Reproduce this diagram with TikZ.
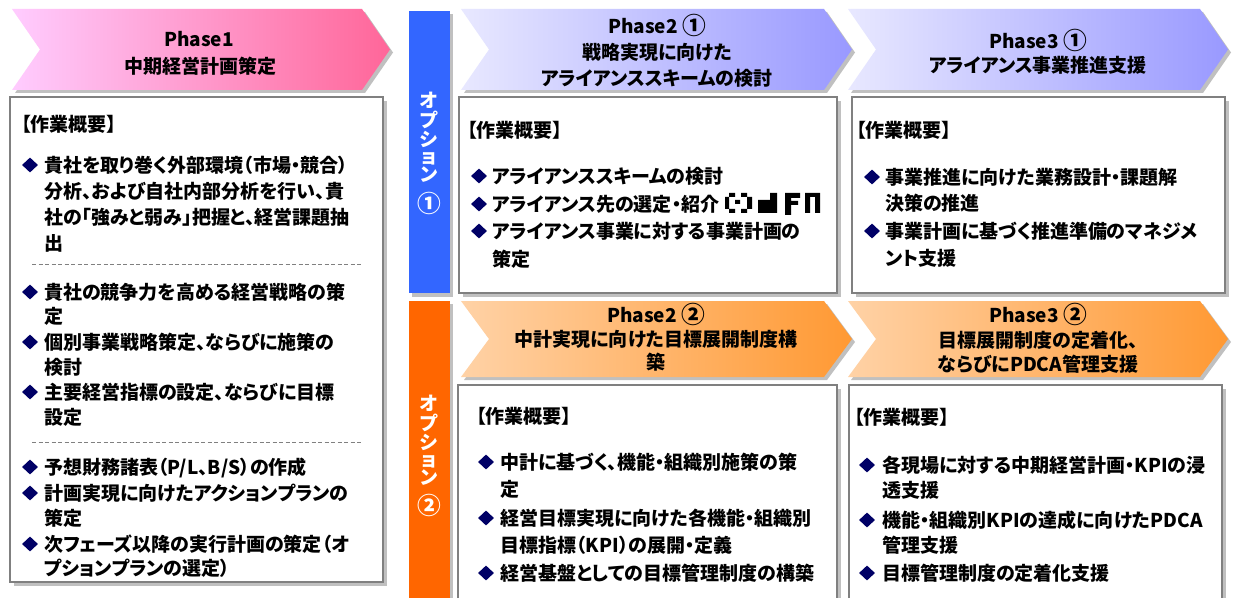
\documentclass[tikz,border=0pt]{standalone}
\usepackage{fontspec}
\usepackage{graphicx}
\setmainfont[RawFeature=+palt]{Noto Sans CJK JP}
\usetikzlibrary{shapes.geometric}
\definecolor{navy}{HTML}{000066}
\definecolor{shgray}{HTML}{C0C0C0}
\definecolor{bdgray}{HTML}{808080}
\definecolor{pinkL}{HTML}{FFCCFF}
\definecolor{pinkR}{HTML}{FF6699}
\definecolor{blueL}{HTML}{E8E8FF}
\definecolor{blueR}{HTML}{9999FF}
\definecolor{orL}{HTML}{FFD2A6}
\definecolor{orR}{HTML}{FF9933}
\definecolor{barblue}{HTML}{3366FF}
\definecolor{barorange}{HTML}{FF6600}
\newcommand\chevpath[5]{(#1,#4) -- (#3,#4) -- ({#3+28},{(#4+#5)/2}) -- (#3,#5) -- (#1,#5) -- ({#1+28},{(#4+#5)/2}) -- cycle}
\newcommand\circnum[1]{\raisebox{-0.08em}{\scalebox{1.25}{#1}}}
\begin{document}
\begin{tikzpicture}[x=1pt,y=-1pt,
  txt/.style={anchor=west,inner sep=0pt,font=\fontsize{19}{25}\selectfont\bfseries,text height=16.7pt,text depth=2.3pt},
  hd/.style={txt,anchor=center},
  vt/.style={hd,text=white},
  bul/.style={diamond,fill=navy,inner sep=0pt,minimum width=16pt,minimum height=15pt},
  boxst/.style={draw=bdgray,line width=1.6pt,fill=white},
  shad/.style={fill=shgray},
  sep/.style={draw=bdgray,line width=0.9pt,dash pattern=on 4pt off 2.5pt}]
\useasboundingbox (0,0) rectangle (1238,609);
\fill[white] (0,0) rectangle (1238,609);

% ---------- chevrons ----------
\foreach \a/\b/\c/\d/\e/\lc/\rc in {12/12/362/9/90/pinkL/pinkR, 461/461/824/9/90/blueL/blueR, 848/848/1200/9/90/blueL/blueR, 461/461/824/301/377/orL/orR, 848/848/1200/301/377/orL/orR}{
  \fill[shgray] [shift={(3,3)}] \chevpath{\a}{\b}{\c}{\d}{\e};
  \shade[left color=\lc,right color=\rc] \chevpath{\a}{\b}{\c}{\d}{\e};
}

% ---------- option bars ----------
\fill[shad] (412,14) rectangle (453,297);
\fill[barblue] (409,11) rectangle (450,293);
\fill[shad] (412,304) rectangle (453,598);
\fill[barorange] (409,301) rectangle (450,598);

% ---------- boxes ----------
\fill[shad] (14,101) rectangle (387,586);
\draw[boxst] (10,97) rectangle (383,582);
\fill[shad] (463,101) rectangle (841,297);
\draw[boxst] (459,97) rectangle (837,293);
\fill[shad] (856,101) rectangle (1229,297);
\draw[boxst] (852,97) rectangle (1225,293);
\fill[shad] (462,389) rectangle (841,598);
\fill[white] (458,385) rectangle (837,598);
\draw[draw=bdgray,line width=1.6pt] (458,598) -- (458,385) -- (837,385) -- (837,598);
\fill[shad] (853,389) rectangle (1226,598);
\fill[white] (849,385) rectangle (1222,598);
\draw[draw=bdgray,line width=1.6pt] (849,598) -- (849,385) -- (1222,385) -- (1222,598);

% separators in box 1
\coordinate (s1a) at (32,264); \coordinate (s1b) at (363,264);
\coordinate (s2a) at (32,442); \coordinate (s2b) at (363,442);
\draw[sep] (s1a) -- (s1b);
\draw[sep] (s2a) -- (s2b);

% ---------- chevron titles ----------
\node[hd] (p1a) at (199,39) {Phase1};
\node[hd] (p1b) at (200,66) {中期経営計画策定};
\node[hd] (p21a) at (657,26) {Phase2 \circnum{①}};
\node[hd] (p21b) at (657,52) {戦略実現に向けた};
\node[hd] (p21c) at (657,78) {アライアンススキームの検討};
\node[hd] (p31a) at (1038,41) {Phase3 \circnum{①}};
\node[hd] (p31b) at (1038,65) {アライアンス事業推進支援};
\node[hd] (p22a) at (656,315) {Phase2 \circnum{②}};
\node[hd] (p22b) at (656,339) {中計実現に向けた目標展開制度構};
\node[hd] (p22c) at (656,362) {築};
\node[hd] (p32a) at (1038,315) {Phase3 \circnum{②}};
\node[hd] (p32b) at (1038,340) {目標展開制度の定着化、};
\node[hd] (p32c) at (1038,364) {ならびにPDCA管理支援};

% ---------- option labels ----------
\foreach \ch/\dy [count=\i] in {オ/0,プ/20,シ/39,ョ/56,ン/74}{
  \node[vt] (o1c\i) at (429,{100+\dy}) {\ch};
  \node[vt] (o2c\i) at (429,{403+\dy}) {\ch};
}
\node[vt] (o1n) at (429,204) {\circnum{①}};
\node[vt] (o2n) at (429,506) {\circnum{②}};

% ---------- box 1 ----------
\node[txt] (h1) at (21,124) {【作業概要】};
\node[bul] (b11) at (30,165) {};
\node[txt] (t11a) at (44,165) {貴社を取り巻く外部環境（市場・競合）};
\node[txt] (t11b) at (44,191) {分析、および自社内部分析を行い、貴};
\node[txt] (t11c) at (44,217) {社の「強みと弱み」把握と、経営課題抽};
\node[txt] (t11d) at (44,243) {出};
\node[bul] (b12) at (30,292) {};
\node[txt] (t12a) at (44,292) {貴社の競争力を高める経営戦略の策};
\node[txt] (t12b) at (44,316) {定};
\node[bul] (b13) at (30,342) {};
\node[txt] (t13a) at (44,342) {個別事業戦略策定、ならびに施策の};
\node[txt] (t13b) at (44,367) {検討};
\node[bul] (b14) at (30,392) {};
\node[txt] (t14a) at (44,392) {主要経営指標の設定、ならびに目標};
\node[txt] (t14b) at (44,417) {設定};
\node[bul] (b15) at (30,467) {};
\node[txt] (t15a) at (44,467) {予想財務諸表（P/L、B/S）の作成};
\node[bul] (b16) at (30,493) {};
\node[txt] (t16a) at (44,493) {計画実現に向けたアクションプランの};
\node[txt] (t16b) at (44,518) {策定};
\node[bul] (b17) at (30,544) {};
\node[txt] (t17a) at (44,544) {次フェーズ以降の実行計画の策定（オ};
\node[txt] (t17b) at (44,568) {プションプランの選定）};

% ---------- box 2-1 ----------
\node[txt] (h21) at (467,130) {【作業概要】};
\node[bul] (b21) at (479,176) {};
\node[txt] (t21a) at (492,176) {アライアンススキームの検討};
\node[bul] (b22) at (479,204) {};
\node[txt] (t22a) at (492,204) {アライアンス先の選定・紹介};
\node[bul] (b23) at (479,231) {};
\node[txt] (t23a) at (492,231) {アライアンス事業に対する事業計画の};
\node[txt] (t23b) at (492,259) {策定};
% rendering glitch after 紹介
\fill[black] (729,193) rectangle (735,197) (725,197) rectangle (729,209) (729,209) rectangle (735,213)
  (735,200) rectangle (740,204) (741,193) rectangle (747,197) (747,197) rectangle (752,209) (741,209) rectangle (747,213)
  (758,200) rectangle (770,213) (770,193) rectangle (777,213)
  (785,193) rectangle (791,215) (791,193) rectangle (800,198) (791,201) rectangle (798,205)
  (805,193) rectangle (810,213) (815,193) rectangle (820,213) (810,193) rectangle (815,197);

% ---------- box 3-1 ----------
\node[txt] (h31) at (856,130) {【作業概要】};
\node[bul] (b31) at (872,177) {};
\node[txt] (t31a) at (885,177) {事業推進に向けた業務設計・課題解};
\node[txt] (t31b) at (885,203) {決策の推進};
\node[bul] (b32) at (872,231) {};
\node[txt] (t32a) at (885,231) {事業計画に基づく推進準備のマネジメ};
\node[txt] (t32b) at (885,258) {ント支援};

% ---------- box 2-2 ----------
\node[txt] (h22) at (476,416) {【作業概要】};
\node[bul] (b41) at (486,462) {};
\node[txt] (t41a) at (500,462) {中計に基づく、機能・組織別施策の策};
\node[txt] (t41b) at (500,489) {定};
\node[bul] (b42) at (486,518) {};
\node[txt] (t42a) at (500,518) {経営目標実現に向けた各機能・組織別};
\node[txt] (t42b) at (500,545) {目標指標（KPI）の展開・定義};
\node[bul] (b43) at (486,573) {};
\node[txt] (t43a) at (500,573) {経営基盤としての目標管理制度の構築};

% ---------- box 3-2 ----------
\node[txt] (h32) at (854,417) {【作業概要】};
\node[bul] (b51) at (867,465) {};
\node[txt] (t51a) at (882,465) {各現場に対する中期経営計画・KPIの浸};
\node[txt] (t51b) at (882,490) {透支援};
\node[bul] (b52) at (867,520) {};
\node[txt] (t52a) at (882,520) {機能・組織別KPIの達成に向けたPDCA};
\node[txt] (t52b) at (882,545) {管理支援};
\node[bul] (b53) at (867,573) {};
\node[txt] (t53a) at (882,573) {目標管理制度の定着化支援};
\end{tikzpicture}
\end{document}
